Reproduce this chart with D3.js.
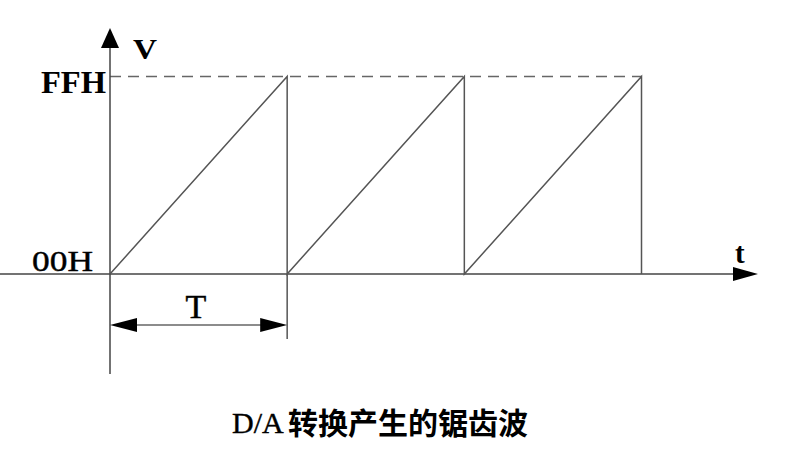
<!DOCTYPE html>
<html>
<head>
<meta charset="utf-8">
<script src="https://cdn.jsdelivr.net/npm/d3@7"></script>
<style>
  body { margin: 0; background: #fff; }
  svg { display: block; }
  .lab { font-family: "Liberation Serif", "DejaVu Serif", serif; fill: #000; }
</style>
</head>
<body>
<div id="chart"></div>
<script>
// Sawtooth data: time in periods, value in DAC codes
var timePoints = [0, 1, 1, 2, 2, 3, 3];
var valuePoints = [0, 255, 0, 255, 0, 255, 0];
var levelValues = [0, 255];
var levelLabels = ['00H', 'FFH'];
var periodMark = [0, 1];
var periodLabel = 'T';
var captionHead = 'D/A';
var captionTail = '转换产生的锯齿波';

var width = 788, height = 458;

var svg = d3.select('#chart')
            .append('svg')
            .attr('width', width)
            .attr('height', height);

var x = d3.scaleLinear().domain([0, 3]).range([110, 641.5]);
var y = d3.scaleLinear().domain([0, 255]).range([274, 76.5]);

var stroke = '#555';

// Dashed FFH level
svg.append('line')
   .attr('x1', x(0)).attr('x2', x(3))
   .attr('y1', y(255)).attr('y2', y(255))
   .attr('stroke', '#666')
   .attr('stroke-width', 1.3)
   .attr('stroke-dasharray', '11,7');

// Axes
svg.append('line')
   .attr('x1', 0).attr('x2', 740)
   .attr('y1', y(0)).attr('y2', y(0))
   .attr('stroke', '#444').attr('stroke-width', 1.5);
svg.append('path')
   .attr('d', 'M733,' + (y(0) - 7) + 'L758,' + y(0) + 'L733,' + (y(0) + 7) + 'Z')
   .attr('fill', '#000');

svg.append('line')
   .attr('x1', x(0)).attr('x2', x(0))
   .attr('y1', 374).attr('y2', 45)
   .attr('stroke', '#444').attr('stroke-width', 1.5);
svg.append('path')
   .attr('d', 'M' + (x(0) - 9) + ',48L' + x(0) + ',28L' + (x(0) + 9) + ',48Z')
   .attr('fill', '#000');

// Sawtooth
var line = d3.line()
    .x(function(d, i) { return x(d); })
    .y(function(d, i) { return y(valuePoints[i]); });

svg.append('path')
   .datum(timePoints)
   .attr('d', line)
   .attr('fill', 'none')
   .attr('stroke', stroke)
   .attr('stroke-width', 1.5);

// Level labels
var yAxis = d3.axisLeft(y)
    .tickValues(levelValues)
    .tickSize(0)
    .tickPadding(0)
    .tickFormat(function(d, i) { return levelLabels[i]; });

var gy = svg.append('g')
            .attr('transform', 'translate(' + x(0) + ',0)')
            .call(yAxis);
gy.attr('font-family', null).attr('font-size', null);
gy.select('.domain').remove();
gy.selectAll('text')
  .attr('class', 'lab')
  .attr('dy', null)
  .attr('fill', '#000')
  .attr('x', function(d) { return d === 255 ? -4 : -17; })
  .attr('y', function(d) { return d === 255 ? 15.5 : -4; })
  .attr('textLength', function(d) { return d === 255 ? 65 : 61; })
  .attr('lengthAdjust', 'spacingAndGlyphs')
  .style('font-size', function(d) { return d === 255 ? '31px' : '29px'; })
  .style('font-weight', function(d) { return d === 255 ? 'bold' : 'normal'; })
  .style('stroke', function(d) { return d === 255 ? 'none' : '#000'; })
  .style('stroke-width', '0.4px');

// Axis names
svg.append('text').attr('class', 'lab')
   .attr('x', 133).attr('y', 59)
   .attr('textLength', 24)
   .attr('lengthAdjust', 'spacingAndGlyphs')
   .style('font-size', '30px')
   .style('font-weight', 'bold')
   .text('V');
svg.append('text').attr('class', 'lab')
   .attr('x', 735).attr('y', 263)
   .style('font-size', '29px')
   .style('font-weight', 'bold')
   .text('t');

// Period marker
var ty = 325;
svg.append('line')
   .attr('x1', x(periodMark[1])).attr('x2', x(periodMark[1]))
   .attr('y1', y(0)).attr('y2', 339)
   .attr('stroke', stroke).attr('stroke-width', 1.5);
svg.append('line')
   .attr('x1', x(periodMark[0]) + 20).attr('x2', x(periodMark[1]) - 20)
   .attr('y1', ty).attr('y2', ty)
   .attr('stroke', '#666').attr('stroke-width', 1.5);
svg.append('path')
   .attr('d', 'M' + x(periodMark[0]) + ',' + ty + 'L' + (x(periodMark[0]) + 27) + ',' + (ty - 7) +
              'L' + (x(periodMark[0]) + 27) + ',' + (ty + 7) + 'Z')
   .attr('fill', '#000');
svg.append('path')
   .attr('d', 'M' + x(periodMark[1]) + ',' + ty + 'L' + (x(periodMark[1]) - 27) + ',' + (ty - 7) +
              'L' + (x(periodMark[1]) - 27) + ',' + (ty + 7) + 'Z')
   .attr('fill', '#000');
svg.append('text').attr('class', 'lab')
   .attr('x', 196)
   .attr('y', 318)
   .attr('text-anchor', 'middle')
   .style('font-size', '34px')
   .style('stroke', '#000')
   .style('stroke-width', '0.5px')
   .text(periodLabel);

// Caption
var cap = svg.append('text')
   .attr('x', 232).attr('y', 433);
cap.append('tspan')
   .style('font-family', '"Liberation Serif", serif')
   .style('font-size', '30px')
   .style('stroke', '#000')
   .style('stroke-width', '0.4px')
   .text(captionHead);
cap.append('tspan')
   .attr('x', 288)
   .attr('y', 434)
   .attr('textLength', 240)
   .attr('lengthAdjust', 'spacing')
   .style('font-family', '"Noto Sans CJK SC", sans-serif')
   .style('font-size', '30px')
   .style('font-weight', 'bold')
   .text(captionTail);
</script>
</body>
</html>
